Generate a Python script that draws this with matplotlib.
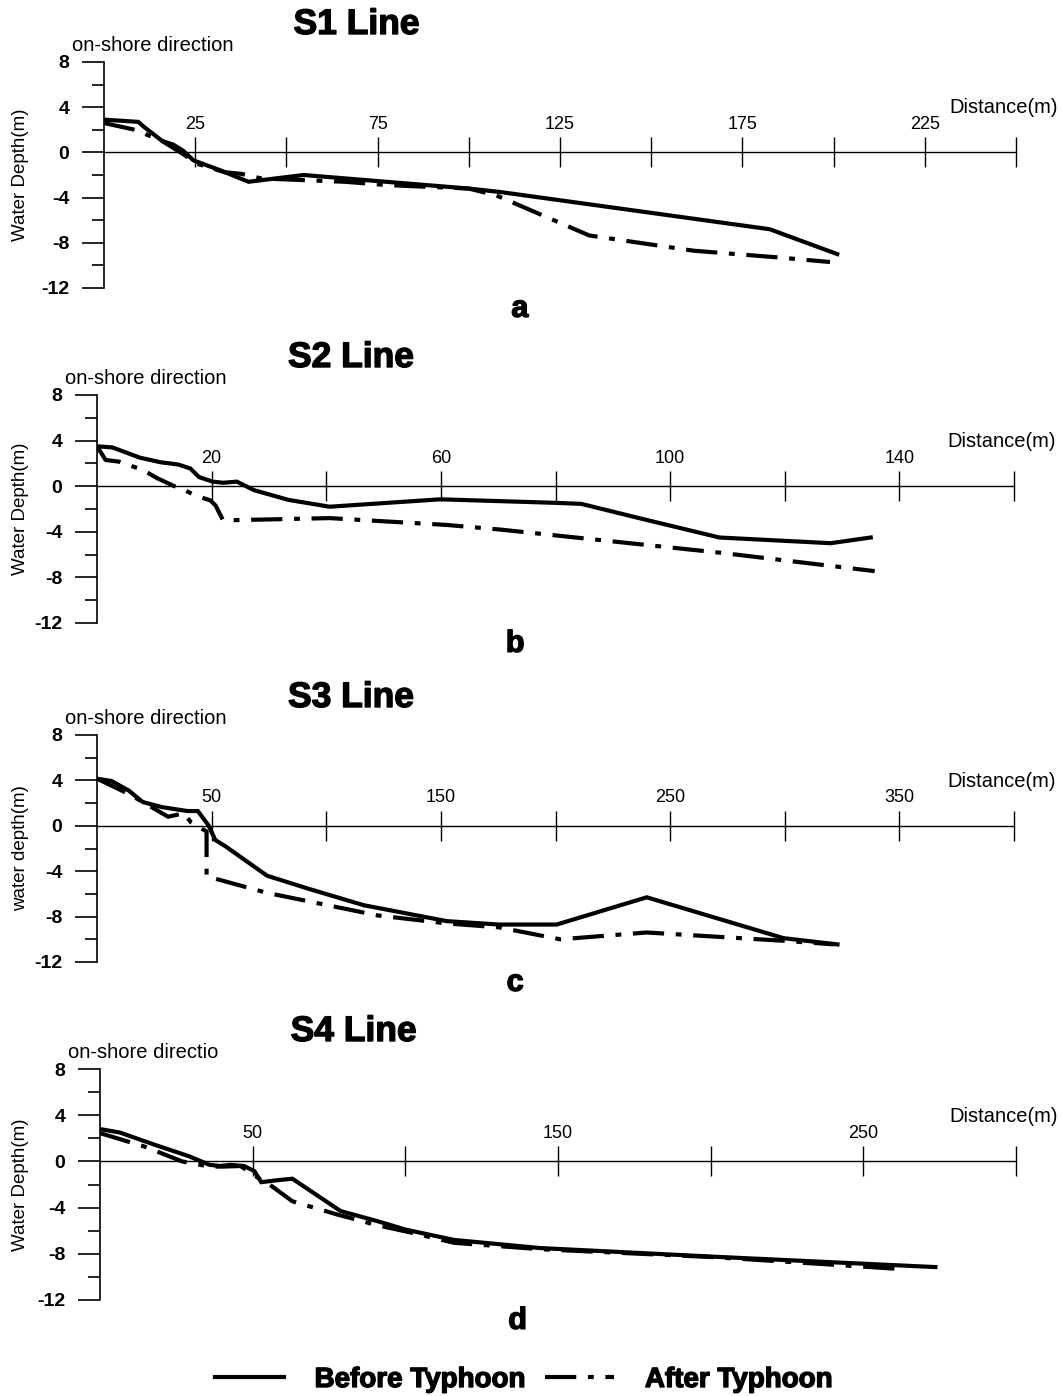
import numpy as np
import matplotlib.pyplot as plt
import matplotlib.patheffects as pe
from matplotlib.lines import Line2D

plt.rcParams['font.family'] = ['Liberation Sans', 'DejaVu Sans']
plt.rcParams['axes.unicode_minus'] = False

# ---- data (distance m, water depth m) ----
s1_before_x = [0, 9.4, 10.8, 16, 18.9, 21.7, 24.5, 32, 39.6, 54.7, 100, 108.5, 182.5, 201]
s1_before_y = [2.9, 2.7, 2.3, 1.0, 0.7, 0.15, -0.7, -1.6, -2.6, -2.0, -3.2, -3.5, -6.8, -9.0]
s1_after_x = [0, 8.5, 16, 21.7, 25.5, 33, 37.7, 43, 66, 78, 100, 107.5, 133, 161.6, 185, 199]
s1_after_y = [2.6, 2.0, 1.0, -0.15, -1.0, -1.75, -1.9, -2.3, -2.6, -2.9, -3.2, -3.8, -7.35, -8.7, -9.3, -9.7]

s2_before_x = [0, 2.7, 7.5, 11.1, 14.2, 16.3, 17.8, 20.2, 22, 24.4, 27.4, 33.4, 40.6, 59.9, 80, 84.5,
               95.4, 108.6, 128, 135]
s2_before_y = [3.5, 3.4, 2.5, 2.1, 1.9, 1.55, 0.8, 0.4, 0.3, 0.4, -0.35, -1.2, -1.8, -1.15, -1.46, -1.55,
               -2.9, -4.5, -5.0, -4.5]
s2_after_x = [0, 1.5, 3.9, 8.1, 10.5, 13.5, 14.7, 17.1, 19.8, 20.7, 22, 40.6, 61, 70.3, 109, 135.7]
s2_after_y = [3.5, 2.3, 2.15, 1.4, 0.7, 0, -0.2, -0.8, -1.25, -1.7, -3.0, -2.8, -3.4, -3.8, -5.85, -7.45]

s3_before_x = [0, 6.3, 13.9, 19.9, 28.2, 39.5, 44, 48.6, 51.6, 56, 74.2, 92.3, 116.4, 152.6, 175.4,
               200.5, 239.8, 299.5, 323]
s3_before_y = [4.15, 3.95, 3.1, 2.1, 1.65, 1.3, 1.3, 0.05, -1.25, -1.8, -4.4, -5.55, -7.0, -8.4, -8.7,
               -8.7, -6.3, -9.9, -10.45]
s3_after_x = [0, 13.9, 19.9, 31, 38, 41, 47.8, 47.8, 74, 122.5, 152.6, 175.4, 202, 239.8, 301, 321.4]
s3_after_y = [4.15, 2.8, 2.1, 0.8, 1.1, 0.3, -0.5, -4.45, -5.9, -7.9, -8.6, -8.95, -10.0, -9.4, -10.15, -10.45]

s4_before_x = [0, 6.5, 17.8, 29.1, 35.9, 39.3, 42.7, 47.2, 50.6, 52.8, 57.3, 63, 78.8, 91.2, 100, 116,
               144, 201.8, 273.6]
s4_before_y = [2.8, 2.5, 1.45, 0.45, -0.3, -0.4, -0.3, -0.4, -0.85, -1.8, -1.65, -1.5, -4.3, -5.2, -5.9,
               -6.8, -7.5, -8.26, -9.15]
s4_after_x = [0, 14.4, 26.9, 35.9, 40.4, 46, 52.8, 55, 63, 77.7, 91.2, 102.5, 116, 144, 201.8, 264]
s4_after_y = [2.45, 1.3, 0, -0.45, -0.45, -0.4, -1.6, -1.9, -3.45, -4.6, -5.55, -6.2, -7.05, -7.6, -8.3, -9.35]

titles = ["S1 Line", "S2 Line", "S3 Line", "S4 Line"]
letters = ["a", "b", "c", "d"]
ylabels = ["Water Depth(m)", "Water Depth(m)", "water depth(m)", "Water Depth(m)"]
corner_notes = ["on-shore direction", "on-shore direction", "on-shore direction", "on-shore directio"]
x_max = [250, 160, 400, 300]
x_step = [25, 20, 50, 50]
y_ticks = [-12, -8, -4, 0, 4, 8]
y_minor = [-10, -6, -2, 2, 6]

befores = [(s1_before_x, s1_before_y), (s2_before_x, s2_before_y),
           (s3_before_x, s3_before_y), (s4_before_x, s4_before_y)]
afters = [(s1_after_x, s1_after_y), (s2_after_x, s2_after_y),
          (s3_after_x, s3_after_y), (s4_after_x, s4_after_y)]

W, H = 1063, 1396
fig = plt.figure(figsize=(W / 100, H / 100), dpi=100)

# pixel boxes of each panel: left, right, top(y=8), bottom(y=-12)
boxes = [(104, 1016, 62, 288), (97, 1014, 395, 623), (97, 1014, 735, 962), (100, 1016, 1069, 1300)]

# fake an "Arial Black" look: bold face plus a thin outline
fat = [pe.withStroke(linewidth=1.0, foreground='black')]
heavy = dict(fontweight='bold', path_effects=fat)
dashdot = (0, (7.5, 2.8, 1.4, 2.8))

for i in range(4):
    l, r, t, b = boxes[i]
    ax = fig.add_axes([l / W, 1 - b / H, (r - l) / W, (b - t) / H])
    ax.plot(*befores[i], color='black', lw=3, solid_joinstyle='miter')
    ax.plot(*afters[i], color='black', lw=3, linestyle=dashdot)
    ax.set_xlim(0, x_max[i])
    ax.set_ylim(-12, 8)

    ax.spines['right'].set_visible(False)
    ax.spines['bottom'].set_visible(False)
    ax.spines['top'].set_position(('data', 0))
    ax.spines['top'].set_linewidth(1)
    ax.spines['left'].set_linewidth(1.2)

    s = x_step[i]
    labelled = np.arange(s, x_max[i] + 1, 2 * s)
    plain = np.arange(2 * s, x_max[i] + 1, 2 * s)
    ax.xaxis.set_ticks_position('top')
    ax.set_xticks(labelled)
    ax.set_xticklabels([str(v) for v in labelled])
    ax.set_xticks(plain, minor=True)
    ax.tick_params(axis='x', which='both', direction='inout', length=22, width=1,
                   labelsize=13, pad=3)

    ax.set_yticks(y_ticks)
    ax.set_yticklabels([str(v) for v in y_ticks], fontweight='bold')
    ax.set_yticks(y_minor, minor=True)
    ax.tick_params(axis='y', which='major', direction='out', length=16, width=1.2,
                   labelsize=14, pad=9)
    ax.tick_params(axis='y', which='minor', direction='out', length=8.5, width=1.2)

    ax.set_ylabel(ylabels[i], fontsize=13.5)
    ax.yaxis.set_label_coords((29 - l) / (r - l), 0.5)

    ax.annotate(corner_notes[i], xy=(0, 1), xycoords='axes fraction', xytext=(-23, 12),
                textcoords='offset points', ha='left', va='center', fontsize=14.5)
    ax.annotate('Distance(m)', xy=(1, 0), xycoords=('axes fraction', 'data'), xytext=(30, 32),
                textcoords='offset points', ha='right', va='center', fontsize=14.5)
    ax.annotate(titles[i], xy=(0.277, 1), xycoords='axes fraction', xytext=(0, 27),
                textcoords='offset points', ha='center', va='center', fontsize=25.5, **heavy)
    ax.annotate(letters[i], xy=(0.456, 0), xycoords='axes fraction', xytext=(0, -15),
                textcoords='offset points', ha='center', va='center', fontsize=22, **heavy)

handles = [Line2D([], [], color='black', lw=3),
           Line2D([], [], color='black', lw=3, linestyle=dashdot)]
leg = fig.legend(handles, ['Before Typhoon', 'After Typhoon'], loc='center',
                 bbox_to_anchor=(0.4925, 1 - 1380 / H), ncol=2, frameon=False,
                 handlelength=2.5, handletextpad=1.1, columnspacing=0.7,
                 prop=dict(weight='bold', size=20))
for txt in leg.get_texts():
    txt.set_path_effects(fat)

fig.savefig('out.png', dpi=100)
